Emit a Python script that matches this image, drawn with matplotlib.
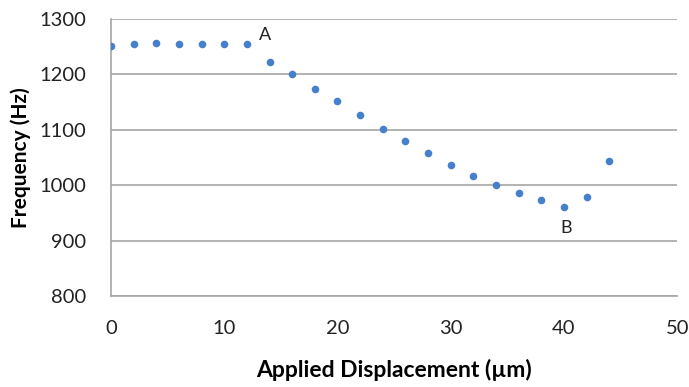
import matplotlib.pyplot as plt

# data
displacement = [0, 2, 4, 6, 8, 10, 12, 14, 16, 18, 20, 22,
                24, 26, 28, 30, 32, 34, 36, 38, 40, 42, 44]
frequency = [1251, 1254, 1256, 1254, 1254, 1254, 1254, 1223, 1201, 1173, 1152, 1127,
             1101, 1080, 1058, 1036, 1016, 1000, 986, 973, 961, 978, 1044]
point_labels = [("A", 13.6, 1271), ("B", 40.2, 922)]

plt.rcParams['font.family'] = ['Lato', 'DejaVu Sans']

fig = plt.figure(figsize=(6.89, 3.87), dpi=100)
ax = fig.add_axes([0.161, 0.235, 0.822, 0.716])

ax.scatter(displacement, frequency, s=30, color='#4480CC', zorder=3, linewidths=0)

for text, x, y in point_labels:
    ax.text(x, y, text, fontsize=13, ha='center', va='center', color='#222222')

ax.set_xlim(0, 50)
ax.set_ylim(800, 1300)
ax.set_xticks(range(0, 51, 10))
ax.set_yticks(range(800, 1301, 100))
ax.tick_params(axis='both', length=0, labelsize=14.5, colors='#222222')
ax.tick_params(axis='x', pad=17)
ax.tick_params(axis='y', pad=18)

ax.grid(axis='y', color='#A6A6A6', linewidth=1.2)
ax.set_axisbelow(True)
for side in ['top', 'right']:
    ax.spines[side].set_visible(False)
for side in ['left', 'bottom']:
    ax.spines[side].set_color('#A6A6A6')
    ax.spines[side].set_linewidth(1.2)

ax.set_xlabel('Applied Displacement (µm)', fontsize=16.5, fontweight='bold', labelpad=16)
ax.set_ylabel('Frequency (Hz)', fontsize=15, fontweight='bold', labelpad=6)

fig.savefig('out.png', dpi=100)
